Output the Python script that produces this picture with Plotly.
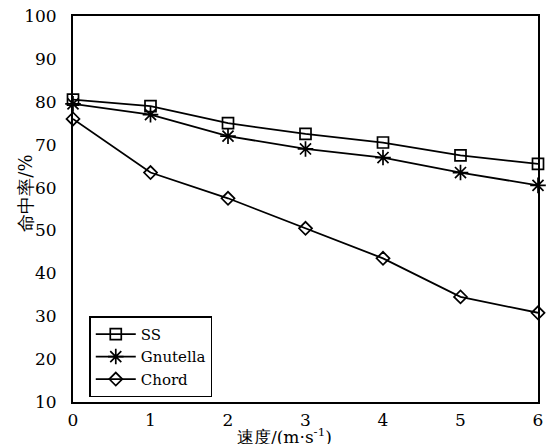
import plotly.graph_objects as go

speed = [0, 1, 2, 3, 4, 5, 6]
ss = [80.5, 79, 75, 72.5, 70.5, 67.5, 65.5]
gnutella = [79.5, 77, 72, 69, 67, 63.5, 60.5]
chord = [76, 63.5, 57.5, 50.5, 43.5, 34.5, 30.8]
series_names = ["SS", "Gnutella", "Chord"]
y_ticks = [10, 20, 30, 40, 50, 60, 70, 80, 90, 100]
x_ticks = [0, 1, 2, 3, 4, 5, 6]

FONT = "DejaVu Serif"
symbols = ["square-open", "asterisk-open", "diamond-open"]
sizes = [11, 13, 10]

fig = go.Figure()
for name, vals, sym, sz in zip(series_names, [ss, gnutella, chord], symbols, sizes):
    fig.add_trace(go.Scatter(
        x=speed, y=vals, name=name, mode="lines+markers",
        line=dict(color="black", width=1.8),
        marker=dict(symbol=sym, size=sz, color="black",
                    line=dict(color="black", width=1.7)),
        cliponaxis=False,
    ))

fig.add_annotation(
    text="命中率/%", xref="paper", yref="paper",
    x=-0.103, y=0.54, xanchor="center", yanchor="middle",
    textangle=-90, showarrow=False,
    font=dict(family=FONT, size=18, color="black"),
)
fig.add_annotation(
    text="速度/(m·s<sup>-1</sup>)", xref="paper", yref="paper",
    x=0.455, y=-0.088, xanchor="center", yanchor="middle",
    showarrow=False,
    font=dict(family=FONT, size=17, color="black"),
)

fig.update_layout(
    width=552, height=444,
    margin=dict(l=73, r=14, t=16, b=42),
    paper_bgcolor="white", plot_bgcolor="white",
    font=dict(family=FONT, size=17, color="black"),
    showlegend=True,
    legend=dict(
        x=0.035, y=0.222, xanchor="left", yanchor="top",
        bgcolor="white", bordercolor="black", borderwidth=1.5,
        font=dict(family=FONT, size=15, color="black"),
        itemwidth=40, tracegroupgap=0,
    ),
    xaxis=dict(
        range=[0, 6], tickvals=x_ticks, ticks="outside", ticklen=2,
        tickcolor="rgba(255,255,255,0)", tickwidth=1,
        showline=True, linecolor="black", linewidth=1.8, mirror=True,
        showgrid=False, zeroline=False, automargin=False,
        tickfont=dict(family=FONT, size=17),
    ),
    xaxis2=dict(
        overlaying="x", matches="x", side="bottom", anchor="y",
        range=[0, 6], tickvals=x_ticks, ticks="inside", ticklen=5,
        tickcolor="black", tickwidth=1.5, showticklabels=False,
        showline=False, showgrid=False, zeroline=False,
    ),
    yaxis=dict(
        range=[10, 100], tickvals=y_ticks, ticks="outside", ticklen=11,
        tickcolor="rgba(255,255,255,0)", tickwidth=1,
        showline=True, linecolor="black", linewidth=1.8, mirror=True,
        showgrid=False, zeroline=False, automargin=False,
        tickfont=dict(family=FONT, size=17),
    ),
    yaxis2=dict(
        overlaying="y", matches="y", side="left", anchor="x",
        range=[10, 100], tickvals=y_ticks, ticks="inside", ticklen=5,
        tickcolor="black", tickwidth=1.5, showticklabels=False,
        showline=False, showgrid=False, zeroline=False,
    ),
)

fig.write_html("out.html")
